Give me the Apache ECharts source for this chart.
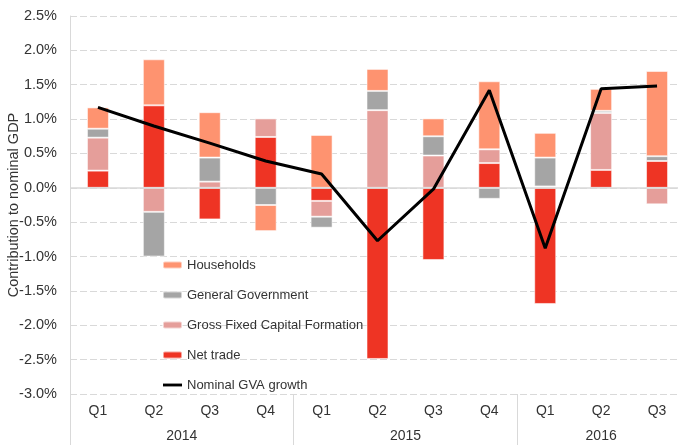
<!DOCTYPE html>
<html>
<head>
<meta charset="utf-8">
<script src="https://cdn.jsdelivr.net/npm/echarts@6/dist/echarts.min.js"></script>
<style>
html,body{margin:0;padding:0;background:#fff;}
#chart{width:678px;height:445px;}
</style>
</head>
<body>
<div id="chart"></div>
<script>
// ---- data ----
const years = ['2014', '2015', '2016'];
const quartersPerYear = [4, 4, 3];
const quarterLabels = ['Q1','Q2','Q3','Q4','Q1','Q2','Q3','Q4','Q1','Q2','Q3'];
const netTrade   = [0.25, 1.20, -0.46, 0.74, -0.19, -2.49, -1.05, 0.36, -1.69, 0.26, 0.39];
const gfcf       = [0.48, -0.35, 0.09, 0.27, -0.23, 1.13, 0.47, 0.20, 0.02, 0.83, -0.24];
const govt       = [0.13, -0.65, 0.35, -0.25, -0.16, 0.28, 0.28, -0.16, 0.42, 0.03, 0.07];
const households = [0.31, 0.67, 0.66, -0.38, 0.77, 0.32, 0.26, 0.99, 0.36, 0.32, 1.24];
const gvaGrowth  = [1.17, 0.90, 0.65, 0.39, 0.20, -0.77, -0.02, 1.42, -0.88, 1.44, 1.48];
const yTicks = { min: -3, max: 2.5, interval: 0.5 };

// unique category keys (year + quarter)
const categories = [];
years.forEach((y, yi) => {
  for (let q = 0; q < quartersPerYear[yi]; q++) categories.push(y + ' ' + quarterLabels[categories.length]);
});
// half-slot axis for year labels and year separators
const halfSlots = [];
const sepIdx = [0];
let pos = 0;
years.forEach((y, yi) => {
  const n = quartersPerYear[yi] * 2;
  for (let k = 0; k < n; k++) halfSlots.push(k === quartersPerYear[yi] ? y : '');
  pos += n;
  sepIdx.push(pos);
});
halfSlots.push('');

const textColor = '#333333';
const gridColor = '#d9d9d9';
const font = '"Liberation Sans", Arial, sans-serif';
const border = { borderColor: 'rgba(255,255,255,0.55)', borderWidth: 1 };

const chart = echarts.init(document.getElementById('chart'));
chart.setOption({
  animation: false,
  textStyle: { fontFamily: font },
  grid: { left: 70, top: 16, width: 615, bottom: 51, containLabel: false, outerBoundsMode: 'none' },
  legend: {
    orient: 'vertical',
    left: 157,
    top: 253,
    itemWidth: 19,
    itemHeight: 7,
    itemGap: 16,
    textStyle: { fontSize: 13, color: textColor, fontFamily: font, lineHeight: 14 },
    data: [
      'Households', 'General Government', 'Gross Fixed Capital Formation', 'Net trade',
      { name: 'Nominal GVA growth', icon: 'path://M0 0 H20 V3 H0 Z' }
    ]
  },
  xAxis: [
    {
      type: 'category',
      data: categories,
      position: 'bottom',
      axisLine: { show: false },
      axisTick: { show: false },
      axisLabel: {
        margin: 10, fontSize: 14, color: textColor, interval: 0,
        formatter: (v) => v.split(' ')[1]
      }
    },
    {
      type: 'category',
      data: halfSlots,
      position: 'bottom',
      boundaryGap: false,
      axisLine: { show: false },
      axisTick: {
        show: true, length: 52,
        interval: (i) => sepIdx.indexOf(i) >= 0,
        lineStyle: { color: gridColor, width: 1 }
      },
      axisLabel: { margin: 35, fontSize: 14, color: textColor, interval: 0 }
    }
  ],
  yAxis: {
    type: 'value',
    min: yTicks.min, max: yTicks.max, interval: yTicks.interval,
    name: 'Contribution to nominal GDP',
    nameLocation: 'middle',
    nameGap: 49,
    nameMoveOverlap: false,
    nameTextStyle: { fontSize: 14.5, color: textColor, fontFamily: font },
    axisLine: { show: true, lineStyle: { color: gridColor, width: 1 } },
    axisTick: { show: false },
    axisLabel: {
      margin: 13, fontSize: 14.5, color: textColor,
      formatter: (v) => v.toFixed(1) + '%'
    },
    splitLine: { show: true, lineStyle: { color: gridColor, type: [7, 3], width: 1 } }
  },
  series: [
    {
      name: 'Net trade', type: 'bar', stack: 'c', barWidth: 22,
      itemStyle: Object.assign({ color: '#ee3424' }, border),
      data: netTrade,
      markLine: {
        silent: true, symbol: 'none', label: { show: false },
        lineStyle: { color: gridColor, type: 'solid', width: 1.5 },
        data: [{ yAxis: 0 }]
      }
    },
    {
      name: 'Gross Fixed Capital Formation', type: 'bar', stack: 'c', barWidth: 22,
      itemStyle: Object.assign({ color: '#e59e9a' }, border),
      data: gfcf
    },
    {
      name: 'General Government', type: 'bar', stack: 'c', barWidth: 22,
      itemStyle: Object.assign({ color: '#a5a5a5' }, border),
      data: govt
    },
    {
      name: 'Households', type: 'bar', stack: 'c', barWidth: 22,
      itemStyle: Object.assign({ color: '#fe9370' }, border),
      data: households
    },
    {
      name: 'Nominal GVA growth', type: 'line', symbol: 'none', z: 5,
      lineStyle: { color: '#000', width: 3 },
      itemStyle: { color: '#000' },
      data: gvaGrowth
    }
  ]
});
</script>
</body>
</html>
